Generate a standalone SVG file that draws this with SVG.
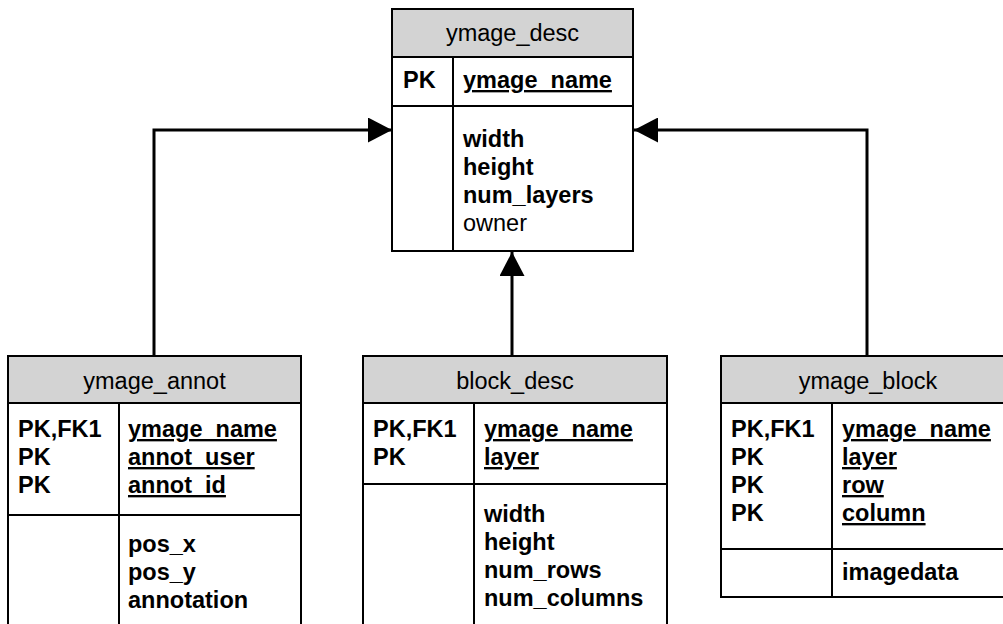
<svg xmlns="http://www.w3.org/2000/svg" width="1003" height="624" viewBox="0 0 1003 624">
<style>
.box{fill:#fff;stroke:#000;stroke-width:2}
.hdr{fill:#d3d3d3;stroke:#000;stroke-width:2}
.ln{stroke:#000;stroke-width:2;fill:none}
.title{font-family:"Liberation Sans",Arial,sans-serif;font-size:23.5px;text-anchor:middle;fill:#000}
.b{font-family:"Liberation Sans",Arial,sans-serif;font-size:23.5px;font-weight:bold;fill:#000}
.r{font-family:"Liberation Sans",Arial,sans-serif;font-size:23.5px;fill:#000}
.u{text-decoration:underline}
.conn{stroke:#000;stroke-width:3;fill:none;marker-end:url(#arr)}
</style>
<defs>
<marker id="arr" markerUnits="userSpaceOnUse" markerWidth="25" markerHeight="25" refX="24" refY="12.5" orient="auto" viewBox="0 0 25 25">
<path d="M0,0 L24,12.5 L0,25 Z" fill="#000"/>
</marker>
</defs>
<rect width="1003" height="624" fill="#fff"/>
<g id="connectors">
<path class="conn" d="M154,356 V130 H392"/>
<path class="conn" d="M867,356 V130 H634"/>
<path class="conn" d="M512,356 V252"/>
</g>
<g id="ymage_desc">
<rect class="box" x="392" y="9" width="241" height="242"/>
<rect class="hdr" x="392" y="9" width="241" height="48"/>
<line class="ln" x1="392" y1="106" x2="633" y2="106"/>
<line class="ln" x1="453" y1="57" x2="453" y2="251"/>
<text class="title" x="512.5" y="41">ymage_desc</text>
<text class="b" x="403" y="88">PK</text>
<text class="b u" x="463" y="88">ymage_name</text>
<text class="b" x="463" y="147">width</text>
<text class="b" x="463" y="175">height</text>
<text class="b" x="463" y="203">num_layers</text>
<text class="r" x="463" y="231">owner</text>
</g>
<g id="ymage_annot">
<rect class="box" x="8" y="356" width="293" height="290"/>
<rect class="hdr" x="8" y="356" width="293" height="47"/>
<line class="ln" x1="8" y1="515" x2="301" y2="515"/>
<line class="ln" x1="119" y1="403" x2="119" y2="646"/>
<text class="title" x="154.5" y="389">ymage_annot</text>
<text class="b" x="18" y="437">PK,FK1</text>
<text class="b" x="18" y="465">PK</text>
<text class="b" x="18" y="493">PK</text>
<text class="b u" x="128" y="437">ymage_name</text>
<text class="b u" x="128" y="465">annot_user</text>
<text class="b u" x="128" y="493">annot_id</text>
<text class="b" x="128" y="552">pos_x</text>
<text class="b" x="128" y="580">pos_y</text>
<text class="b" x="128" y="608">annotation</text>
</g>
<g id="block_desc">
<rect class="box" x="363" y="356" width="304" height="290"/>
<rect class="hdr" x="363" y="356" width="304" height="47"/>
<line class="ln" x1="363" y1="484" x2="667" y2="484"/>
<line class="ln" x1="474" y1="403" x2="474" y2="646"/>
<text class="title" x="515" y="389">block_desc</text>
<text class="b" x="373" y="437">PK,FK1</text>
<text class="b" x="373" y="465">PK</text>
<text class="b u" x="484" y="437">ymage_name</text>
<text class="b u" x="484" y="465">layer</text>
<text class="b" x="484" y="522">width</text>
<text class="b" x="484" y="550">height</text>
<text class="b" x="484" y="578">num_rows</text>
<text class="b" x="484" y="606">num_columns</text>
</g>
<g id="ymage_block">
<rect class="box" x="721" y="356" width="294" height="241"/>
<rect class="hdr" x="721" y="356" width="294" height="47"/>
<line class="ln" x1="721" y1="549" x2="1015" y2="549"/>
<line class="ln" x1="832" y1="403" x2="832" y2="597"/>
<text class="title" x="868" y="389">ymage_block</text>
<text class="b" x="731" y="437">PK,FK1</text>
<text class="b" x="731" y="465">PK</text>
<text class="b" x="731" y="493">PK</text>
<text class="b" x="731" y="521">PK</text>
<text class="b u" x="842" y="437">ymage_name</text>
<text class="b u" x="842" y="465">layer</text>
<text class="b u" x="842" y="493">row</text>
<text class="b u" x="842" y="521">column</text>
<text class="b" x="842" y="580">imagedata</text>
</g>
</svg>
